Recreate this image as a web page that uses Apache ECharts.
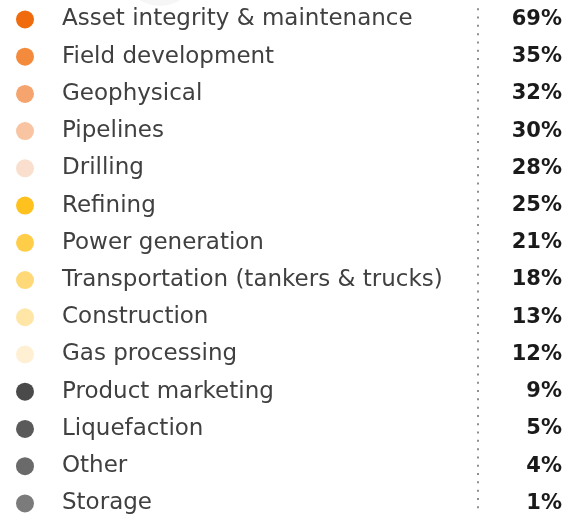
<!DOCTYPE html>
<html>
<head>
<meta charset="utf-8">
<script src="https://cdn.jsdelivr.net/npm/echarts@6/dist/echarts.min.js"></script>
<style>
  html, body { margin: 0; padding: 0; background: #fff; }
  #main { width: 563px; height: 522px; }
</style>
</head>
<body>
<div id="main"></div>
<script>
const categories = [
  "Asset integrity & maintenance",
  "Field development",
  "Geophysical",
  "Pipelines",
  "Drilling",
  "Refining",
  "Power generation",
  "Transportation (tankers & trucks)",
  "Construction",
  "Gas processing",
  "Product marketing",
  "Liquefaction",
  "Other",
  "Storage"
];
const shares = [69, 35, 32, 30, 28, 25, 21, 18, 13, 12, 9, 5, 4, 1];
const dotColors = [
  "#f06b0e", "#f48a3c", "#f5a46e", "#f8c4a2", "#fadfcf",
  "#ffc11e", "#ffcd47", "#ffd978", "#ffe5a6", "#fff0d3",
  "#4a4a4a", "#5a5a5a", "#6a6a6a", "#7b7b7b"
];

const chart = echarts.init(document.getElementById("main"));

const rowStep = 37.385;
const option = {
  animation: false,
  graphic: [
    {
      // faint edge of a shape cut off above the list
      type: "circle",
      shape: { cx: 160, cy: -32, r: 38 },
      style: { fill: "#f6f6f6" },
      z: -10
    }
  ],
  grid: {
    left: 25,
    right: 1,
    top: 19.5 - rowStep / 2,
    height: rowStep * categories.length
  },
  xAxis: { type: "value", min: 0, max: 1, show: false },
  yAxis: {
    type: "value",
    inverse: true,
    min: -0.5,
    max: categories.length - 0.5,
    show: false
  },
  series: [
    {
      type: "scatter",
      symbol: "circle",
      symbolSize: 18,
      data: categories.map((c, i) => ({
        value: [0, i],
        name: c,
        itemStyle: { color: dotColors[i], opacity: 1 }
      })),
      label: {
        show: true,
        position: "right",
        distance: 28,
        formatter: p => p.name,
        fontFamily: "DejaVu Sans",
        fontWeight: "normal",
        fontSize: 23,
        color: "#404040"
      },
      markLine: {
        silent: true,
        symbol: "none",
        label: { show: false },
        lineStyle: { color: "#8f8f8f", width: 2, type: [2, 6.3] },
        data: [[{ coord: [0.8436, -0.30] }, { coord: [0.8436, 13.25] }]]
      }
    },
    {
      type: "scatter",
      symbolSize: 0,
      itemStyle: { opacity: 1 },
      data: shares.map((v, i) => [1, i, v]),
      label: {
        show: true,
        position: "left",
        distance: 0,
        formatter: p => p.value[2] + "%",
        fontFamily: "DejaVu Sans",
        fontWeight: "bold",
        fontSize: 21,
        color: "#1a1a1a"
      }
    }
  ]
};
chart.setOption(option);
</script>
</body>
</html>
